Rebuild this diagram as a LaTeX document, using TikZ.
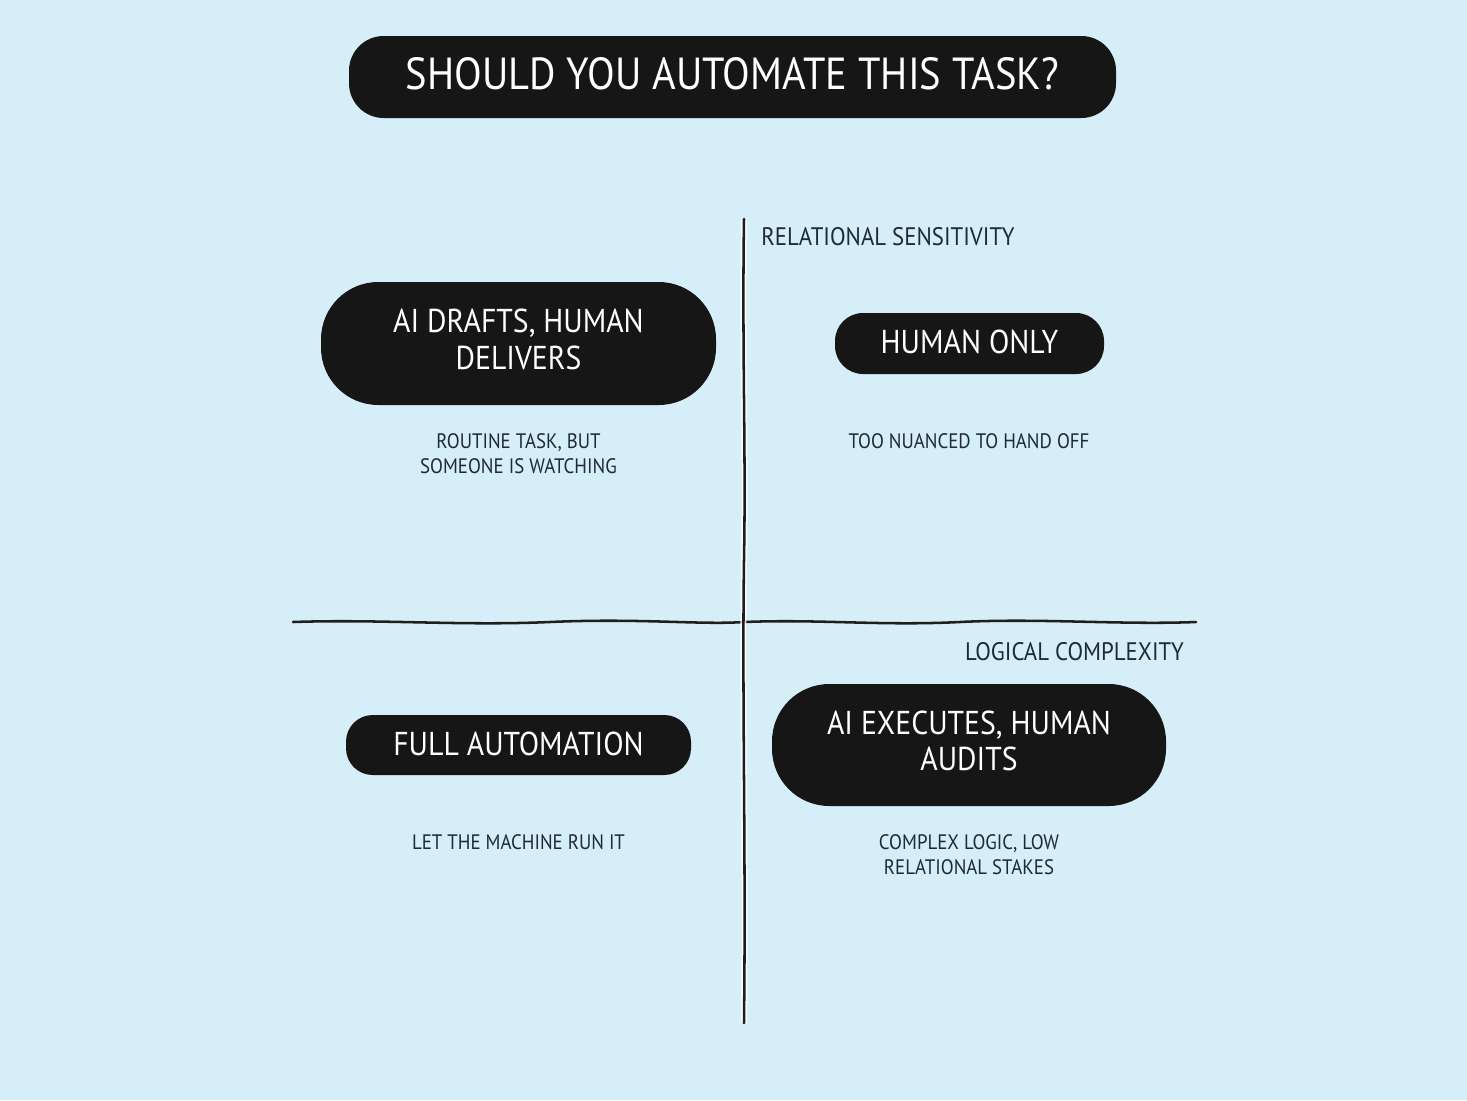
\documentclass[tikz,border=0pt]{standalone}
\usepackage{fontspec}
\setmainfont{PT Sans}[FakeStretch=0.9]
\definecolor{bg}{HTML}{D6EEF8}
\definecolor{pillc}{HTML}{161616}
\definecolor{txt}{HTML}{1E2B33}
\definecolor{axis}{HTML}{1E1E1E}
\newcommand{\twolines}[2]{\raisebox{2pt}{\begin{tabular}{@{}c@{}}#1\\#2\end{tabular}}}
\tikzset{
  pill/.style={fill=pillc, text=white, align=center, inner sep=0pt, font=\fontsize{24.8}{27.4}\selectfont},
  sub/.style={text=txt, align=center, inner sep=0pt, font=\fontsize{15.7}{19}\selectfont},
  axislabel/.style={text=txt, inner sep=0pt, font=\fontsize{19}{22}\selectfont},
  axisline/.style={draw=axis, line width=1.9pt, line cap=round},
  halo/.style={draw=white, line width=4.5pt, opacity=0.8}
}
\begin{document}
\begin{tikzpicture}[x=0.75pt,y=-0.75pt]
\fill[bg] (0,0) rectangle (1467,1100);
\useasboundingbox (0,0) rectangle (1467,1100);
% title
\node[pill, minimum width=575.25pt, minimum height=61.5pt, rounded corners=26pt, font=\fontsize{33.7}{40}\selectfont] (title) at (732.5,77) {\raisebox{5pt}{SHOULD YOU AUTOMATE THIS TASK?}};
% axes
\coordinate (vtop) at (744,219);
\coordinate (vbot) at (744,1023);
\coordinate (hl) at (293,622);
\coordinate (hr) at (1196,622);
\draw[axisline] (hl) .. controls (380,619) and (460,626) .. (550,622) .. controls (640,618) and (700,625) .. (744,622) .. controls (820,619) and (880,626) .. (960,622) .. controls (1040,618) and (1120,625) .. (hr);
\draw[halo] (vtop) .. controls (742,350) and (746,450) .. (744,560) .. controls (742,700) and (746,850) .. (vbot);
\draw[axisline] (vtop) .. controls (742,350) and (746,450) .. (744,560) .. controls (742,700) and (746,850) .. (vbot);
% labels on axes
\node[axislabel, anchor=west] (rel) at (761,237) {RELATIONAL SENSITIVITY};
\node[axislabel, anchor=east] (log) at (1184,652) {LOGICAL COMPLEXITY};
% quadrants
\node[pill, minimum width=296.25pt, minimum height=92.25pt, rounded corners=43pt] (drafts) at (518.5,343.5) {\twolines{AI DRAFTS, HUMAN}{DELIVERS}};
\node[sub] (draftsub) at (518.5,453.5) {ROUTINE TASK, BUT\\SOMEONE IS WATCHING};
\node[pill, minimum width=201.75pt, minimum height=45.75pt, rounded corners=21pt] (human) at (969.5,343.5) {\raisebox{2.6pt}{HUMAN ONLY}};
\node[sub] (humansub) at (969,441) {TOO NUANCED TO HAND OFF};
\node[pill, minimum width=258.75pt, minimum height=45pt, rounded corners=20pt] (full) at (518.5,745) {\raisebox{2.6pt}{FULL AUTOMATION}};
\node[sub] (fullsub) at (518.5,842) {LET THE MACHINE RUN IT};
\node[pill, minimum width=295.5pt, minimum height=91.5pt, rounded corners=43pt] (exec) at (969,745) {\twolines{AI EXECUTES, HUMAN}{AUDITS}};
\node[sub] (execsub) at (969,854.5) {COMPLEX LOGIC, LOW\\RELATIONAL STAKES};
\end{tikzpicture}
\end{document}
